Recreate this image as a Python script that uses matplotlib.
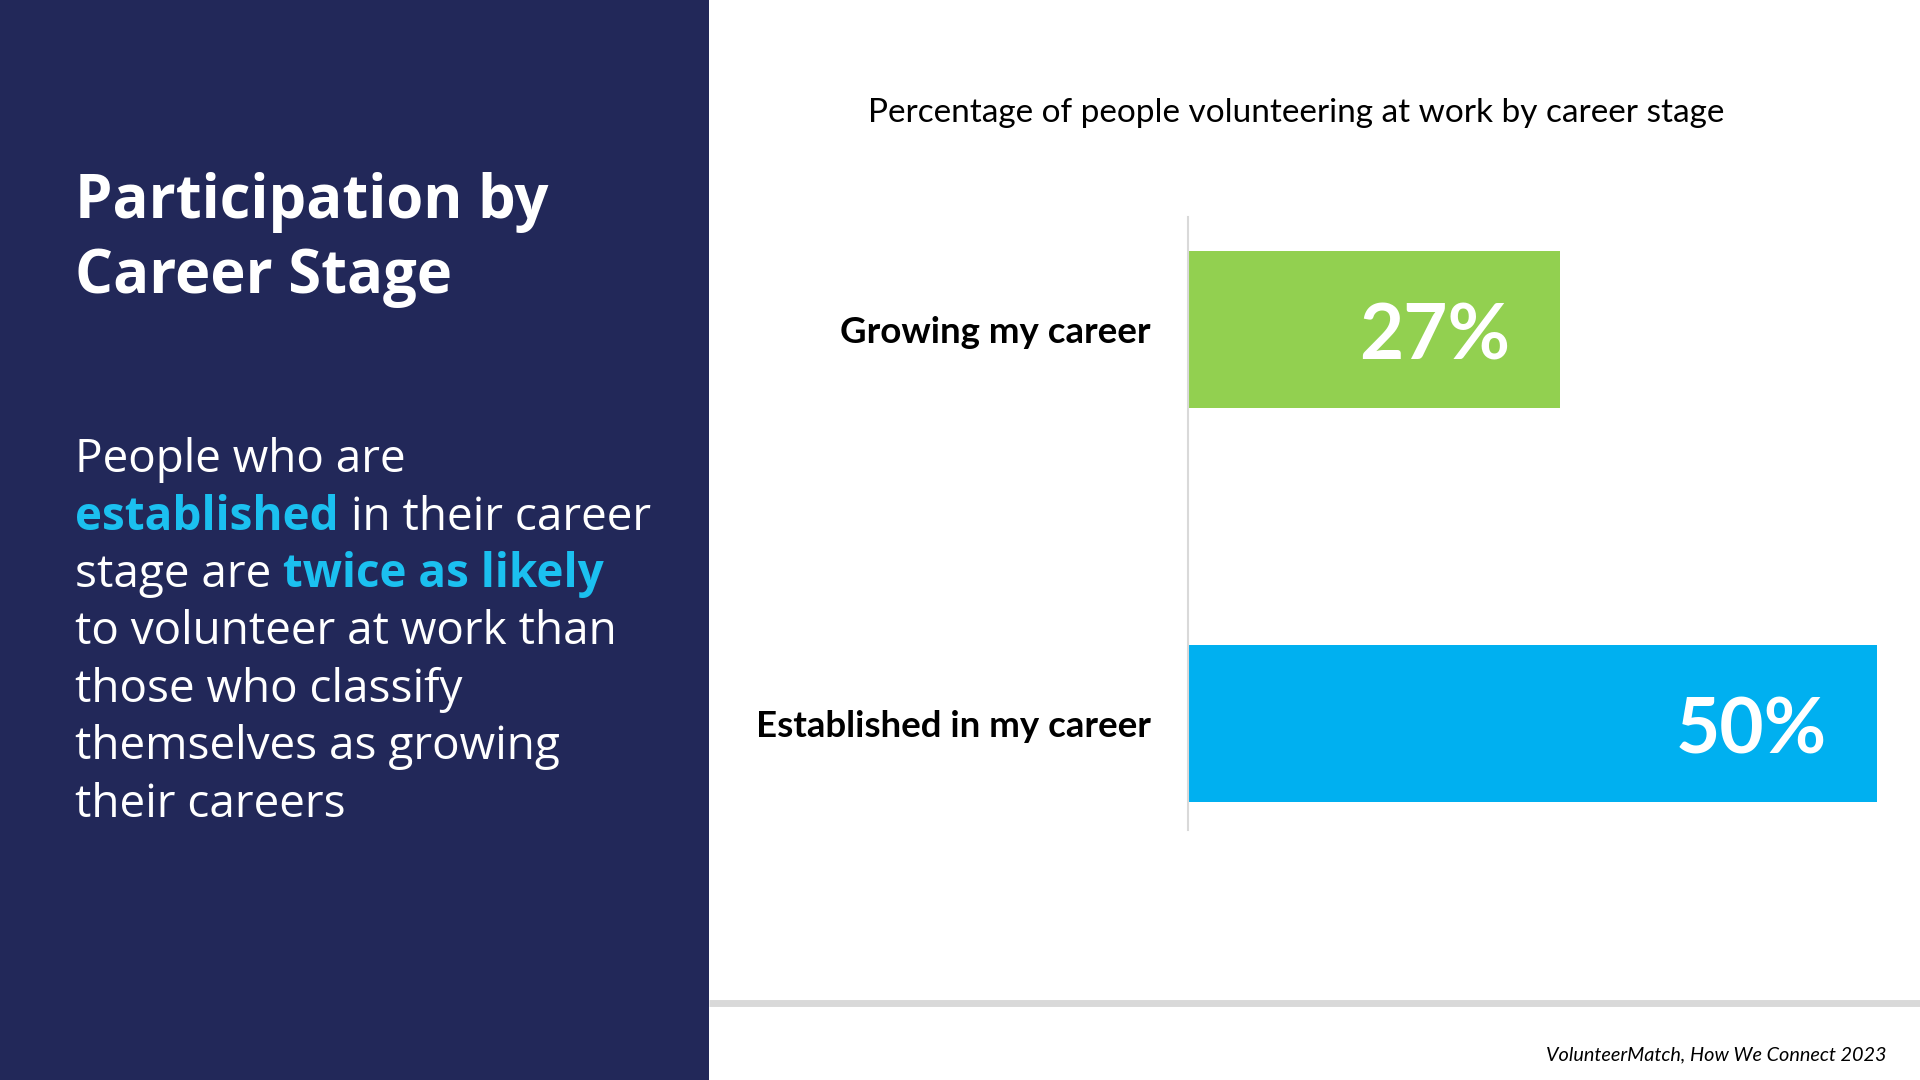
import matplotlib
matplotlib.use('Agg')
import matplotlib.pyplot as plt
from matplotlib.patches import Rectangle
from matplotlib.lines import Line2D

# Data
categories = ['Growing my career', 'Established in my career']
values = [27, 50]
bar_colors = ['#92D050', '#00B0F0']

chart_title = 'Percentage of people volunteering at work by career stage'
panel_title = ['Participation by', 'Career Stage']
# each body line is a list of (text, highlighted) pieces
body_lines = [
    [('People who are', False)],
    [('established', True), (' in their career', False)],
    [('stage are', False), (' twice as likely', True)],
    [('to volunteer at work than', False)],
    [('those who classify', False)],
    [('themselves as growing', False)],
    [('their careers', False)],
]
source = 'VolunteerMatch, How We Connect 2023'

NAVY = '#222859'
CYAN = '#1BC0F0'
W, H = 1920, 1080

fig = plt.figure(figsize=(19.2, 10.8), dpi=100)
fig.patch.set_facecolor('white')

# left navy panel
fig.add_artist(Rectangle((0, 0), 709 / W, 1, transform=fig.transFigure,
                         facecolor=NAVY, edgecolor='none', zorder=0))

# bottom grey rule
fig.add_artist(Line2D([709 / W, 1], [1 - 1003 / H] * 2, transform=fig.transFigure,
                      color='#D9D9D9', linewidth=5, solid_capstyle='butt'))

# panel title
for i, line in enumerate(panel_title):
    fig.text(75 / W, 1 - (218 + 75 * i) / H, line, color='white', fontsize=43,
             fontweight='bold', family='Open Sans', va='baseline', ha='left')

# body text, with highlighted words drawn piece by piece
renderer = fig.canvas.get_renderer()
for i, pieces in enumerate(body_lines):
    x = 75 / W
    y = 1 - (472 + 57.5 * i) / H
    for txt, hl in pieces:
        t = fig.text(x, y, txt, fontsize=33, family='Open Sans',
                     color=CYAN if hl else 'white',
                     fontweight='bold' if hl else 'normal',
                     va='baseline', ha='left')
        x = t.get_window_extent(renderer).x1 / W

# chart title and source
fig.text(1296 / W, 1 - 122 / H, chart_title, fontsize=24, family='Lato',
         color='black', ha='center', va='baseline')
fig.text(1887 / W, 1 - 1060 / H, source, fontsize=14.3, family='Lato',
         style='italic', color='black', ha='right', va='baseline')

# bar chart
ax = fig.add_axes([1188 / W, 1 - 830 / H, 689 / W, 613 / H])
ypos = list(range(len(categories)))
ax.barh(ypos, values, height=0.4, color=bar_colors)
ax.set_xlim(0, 50)
ax.set_ylim(1.27, -0.285)
ax.set_yticks(ypos)
ax.set_yticklabels(categories, fontsize=26.4, fontweight='bold', family='Lato')
ax.tick_params(axis='y', length=0, pad=27)
ax.set_xticks([])
for s in ['top', 'right', 'bottom']:
    ax.spines[s].set_visible(False)
ax.spines['left'].set_color('#D9D9D9')
ax.spines['left'].set_linewidth(1.5)
ax.patch.set_alpha(0)

for i, v in enumerate(values):
    ax.annotate(f'{v}%', xy=(v, i), xytext=(-36, -6), textcoords='offset points',
                ha='right', va='center', color='white', fontsize=55,
                fontweight='bold', family='Lato')

fig.savefig('out.png', dpi=100)
